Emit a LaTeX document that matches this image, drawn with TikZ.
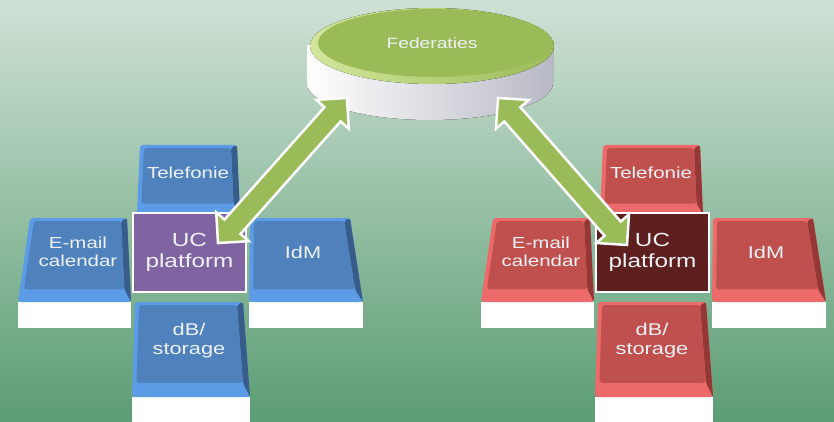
\documentclass[tikz,border=0pt]{standalone}
\usepackage{fontspec}
\setmainfont{Liberation Sans}[FakeStretch=1.28]
\usetikzlibrary{calc,shapes.arrows}
\definecolor{bgtop}{HTML}{CFE1D5}
\definecolor{bgbot}{HTML}{5B9D74}
\definecolor{txt}{HTML}{EEF2F6}
\definecolor{bface}{HTML}{4F81BD}
\definecolor{blight}{HTML}{5C9BE6}
\definecolor{bdark}{HTML}{385D8A}
\definecolor{bucf}{HTML}{8064A2}
\definecolor{rface}{HTML}{C0504D}
\definecolor{rlight}{HTML}{EC6B6A}
\definecolor{rdark}{HTML}{953735}
\definecolor{rucf}{HTML}{5E1F1F}
\definecolor{fgreen}{HTML}{9BBB59}
\definecolor{frim}{HTML}{D3E69B}
\definecolor{sidegray}{HTML}{B9B9C6}
\tikzset{
  lbl/.style={text=txt, font=\fontsize{16}{18}\selectfont, align=center, inner sep=0pt},
  ucbox/.style={draw=white, line width=2pt, minimum width=113pt, minimum height=79pt,
     inner sep=0pt, text=txt, font=\fontsize{19}{21}\selectfont, align=center},
  fatarrow/.style={double arrow, fill=fgreen, draw=white, line width=2.5pt,
     inner xsep=0pt, inner ysep=9.5pt, double arrow head extend=11pt,
     double arrow tip angle=90, minimum width=1pt}
}
% a key cap: top-left x, top-right x, bottom-left x, bottom-right x, top y, bevel bottom y, base bottom y
\newcommand\kcap[7]{%
  \ifdim #7pt>#6pt \fill[white] (#3,#6) rectangle (#4,#7);\fi
  \coordinate (kTL) at (#1,#5);
  \coordinate (kTR) at (#2,#5);
  \coordinate (kBR) at (#4,#6);
  \coordinate (kBL) at (#3,#6);
  \fill[klight, rounded corners=3pt] (kTL) -- (kTR) -- (kBR) -- (kBL) -- cycle;
  \fill[kdark, rounded corners=2pt] (kTR) -- (kBR) -- ($(kTR)!0.85!(kBR)+(-6,0)$) -- ($(kTR)+(-6,3)$) -- cycle;
  \fill[kface, rounded corners=3pt] ($(kTL)+(4,3)$) -- ($(kTR)+(-6,3)$)
     -- ($(kTR)!0.85!(kBR)+(-6,0)$) -- ($(kTL)!0.85!(kBL)+(4,0)$) -- cycle;
}
\newcommand\cluster[1]{%
  \kcap{140}{237}{137}{240}{145}{214}{214}
  \kcap{30}{127}{18}{131}{218}{302}{328}
  \kcap{250}{350}{249}{363}{218}{302}{328}
  \kcap{135}{243}{132}{250}{302}{397}{425}
  \node[ucbox, fill=kuc] (#1uc) at (189.5,252.5) {UC\\platform};
  \node[lbl] (#1tel) at (188,173) {Telefonie};
  \node[lbl] (#1mail) at (78,252) {E-mail\\calendar};
  \node[lbl, font=\fontsize{17}{18}\selectfont] (#1idm) at (303,252) {IdM};
  \node[lbl, font=\fontsize{17}{19}\selectfont] (#1db) at (189,341) {dB/\\storage};
}
\begin{document}
\begin{tikzpicture}[x=1pt,y=-1pt]
\useasboundingbox (0,0) rectangle (834,422);
\fill[top color=bgtop, bottom color=bgbot] (0,0) rectangle (834,422);
% disk
\fill[left color=white, middle color=white, right color=sidegray]
  (307,45) -- (307,83) arc[start angle=180, end angle=360, x radius=123pt, y radius=37pt] -- (553,45) -- cycle;
\fill[left color=frim, right color=fgreen] (432,46) ellipse[x radius=122pt, y radius=38pt];
\fill[fgreen] (435,43) ellipse[x radius=117pt, y radius=34pt];
\node[lbl, font=\fontsize{15}{17}\selectfont] (fed) at (432,43) {Federaties};
% left cluster
\colorlet{kface}{bface}\colorlet{klight}{blight}\colorlet{kdark}{bdark}\colorlet{kuc}{bucf}
\cluster{L}
% right cluster
\colorlet{kface}{rface}\colorlet{klight}{rlight}\colorlet{kdark}{rdark}\colorlet{kuc}{rucf}
\begin{scope}[xshift=463pt]
\cluster{R}
\end{scope}
% arrows
\coordinate (lt) at ($(Luc.north east)+(-29,31)$);
\coordinate (lh) at ($(fed)+(-85,55)$);
\coordinate (rt) at ($(Ruc.north west)+(32,33)$);
\coordinate (rh) at ($(fed)+(66,55)$);
\path let \p1=(lt), \p2=(lh), \n1={atan2(\y2-\y1,\x2-\x1)}, \n2={veclen(\x2-\x1,\y2-\y1)} in
  node[fatarrow, rotate=\n1, minimum height=\n2] (arrL) at ($(lt)!0.5!(lh)$) {};
\path let \p1=(rt), \p2=(rh), \n1={atan2(\y2-\y1,\x2-\x1)}, \n2={veclen(\x2-\x1,\y2-\y1)} in
  node[fatarrow, rotate=\n1, minimum height=\n2] (arrR) at ($(rt)!0.5!(rh)$) {};
\end{tikzpicture}
\end{document}
